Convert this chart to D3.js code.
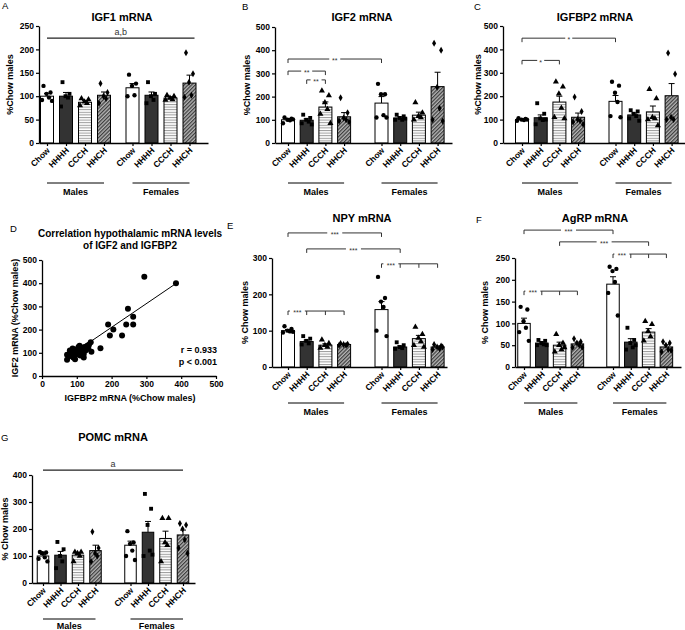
<!DOCTYPE html>
<html><head><meta charset="utf-8">
<script src="https://cdn.jsdelivr.net/npm/d3@7"></script>
<style>
body{margin:0;background:#fff}
text{font-family:"Liberation Sans",Arial,sans-serif}
</style>
</head><body>
<svg id="c" width="685" height="630"></svg>
<script>
// ---------- DATA ----------
const groups = ["Chow","HHHH","CCCH","HHCH"];
const sexes = ["Males","Females"];

// A: IGF1
const igf1Mean = [100,100,87,102,118,102,96,128];
const igf1Sem  = [6,8,4,7,9,7,3,17];
const igf1Pts  = [[122,108,105,97,92,90],[130,105,100,97,78],[95,93,88,85,80],[127,108,100,95,85],
                  [146,127,122,102,100],[130,105,100,92,85],[102,100,96,93,92],[193,148,130,102,98]];
const igf1Ticks = [0,50,100,150,200,250];

// B: IGF2
const igf2Mean = [100,98,155,113,172,108,120,243];
const igf2Sem  = [5,6,22,18,28,5,13,62];
const igf2Pts  = [[110,105,100,98,85,102],[122,108,100,92,85,80],[225,205,175,145,125,85],[195,130,108,100,95,90],
                  [255,210,210,120,110,110],[122,115,108,100,100,105],[175,130,115,110,100],[430,400,240,150,100,95]];
const igf2Ticks = [0,100,200,300,400,500];
const igf2Brackets = [{a:0,b:4,v:362,t:"**"},{a:0,b:2,v:310,t:"**"},{a:1,b:2,v:272,t:"**"}];

// C: IGFBP2
const igfbp2Mean = [100,108,175,110,178,120,133,202];
const igfbp2Sem  = [3,12,25,18,25,8,25,52];
const igfbp2Pts  = [[106,103,100,98,95,100],[170,125,105,98,80,100],[262,240,210,150,110,105],[197,135,100,95,90,80],
                    [262,245,215,175,115,110],[140,135,125,115,105,95],[230,190,110,105,100,75],[385,295,110,100,100]];
const igfbp2Ticks = [0,100,200,300,400,500];
const igfbp2Brackets = [{a:0,b:4,v:448,t:"*"},{a:0,b:2,v:353,t:"*"}];

// D: correlation IGFBP2 (x) vs IGF2 (y)
const corrX = [72,72,78,82,85,88,90,92,95,98,100,103,105,108,110,112,115,118,120,122,125,128,130,133,135,140,142,120,95,105,80,88,
               168,190,195,205,230,242,247,262,262,294,385];
const corrY = [70,92,85,100,95,118,80,105,90,100,115,95,110,130,88,120,100,108,95,125,110,115,130,120,135,145,105,80,72,125,110,88,
               120,222,175,200,175,222,290,255,222,428,400];
const corrSlope = 1.02, corrIntercept = 6;
const corrTicks = [0,100,200,300,400,500];
const corrStats = ["r = 0.933","p < 0.001"];

// E: NPY
const npyMean = [100,70,60,62,158,55,78,55];
const npySem  = [3,4,4,1.5,22,3,9,3];
const npyPts  = [[112,105,100,98,95,97],[85,78,72,65,62],[75,65,60,55,52],[65,63,62,60,60],
                 [248,190,180,165,100,85],[68,60,55,52,50],[110,90,80,70,60,55],[62,58,55,50,48,55]];
const npyTicks = [0,100,200,300];
const npyBrackets = [{a:0,b:4,v:369,t:"***"},{a:1,b:5,v:325,t:"***"}];
const npyMulti = [{from:4,to:[5,6,7],v:284,t:"***"},{from:0,to:[1,2,3],v:154,t:"***"}];

// F: AgRP
const agrpMean = [100,55,50,53,190,57,80,46];
const agrpSem  = [12,3,7,4,17,8,8,5];
const agrpPts  = [[138,132,105,90,80,60],[62,60,55,52,50,50],[75,55,50,40,35,45],[65,58,55,50,45,45],
                  [230,225,220,195,170,118],[90,62,55,45,40,50],[105,98,82,70,60],[58,55,50,40,35,38]];
const agrpTicks = [0,50,100,150,200,250];
const agrpBrackets = [{a:0,b:4,v:314,t:"***"},{a:2,b:6,v:287,t:"***"}];
const agrpMulti = [{from:4,to:[5,6,7],v:259,t:"***"},{from:0,to:[1,2,3],v:174,t:"***"}];

// G: POMC
const pomcMean = [100,103,103,120,140,188,165,178];
const pomcSem  = [6,14,8,20,15,40,27,18];
const pomcPts  = [[115,113,110,95,90,80],[152,125,100,80,55],[115,115,110,100,80],[190,130,110,100,80],
                  [192,150,145,120,100,85],[330,275,215,120,100,105],[240,240,150,140,80],[220,215,200,160,130,110]];
const pomcTicks = [0,100,200,300,400];

// ---------- DRAWING ----------
const svg = d3.select("#c");
svg.append("rect").attr("width",685).attr("height",630).attr("fill","#fff");
const FONT = '"Liberation Sans",Arial,sans-serif';

const defs = svg.append("defs");
const ph = defs.append("pattern").attr("id","hstripe").attr("patternUnits","userSpaceOnUse").attr("width",4).attr("height",2.6);
ph.append("rect").attr("width",4).attr("height",2.6).attr("fill","#fff");
ph.append("rect").attr("width",4).attr("height",1).attr("fill","#9a9a9a");
const pd = defs.append("pattern").attr("id","dhatch").attr("patternUnits","userSpaceOnUse").attr("width",2.6).attr("height",2.6).attr("patternTransform","rotate(45)");
pd.append("rect").attr("width",2.6).attr("height",2.6).attr("fill","#b4b4b4");
pd.append("rect").attr("width",1.2).attr("height",2.6).attr("fill","#3c3c3c");

const fills = ["#fff","#333","url(#hstripe)","url(#dhatch)"];
const symTypes = [d3.symbolCircle,d3.symbolSquare,d3.symbolTriangle,d3.symbolDiamond];
const symSizes = [15,15,16,14];
const jit = [-3.5,3.5,-0.5,2,-5,5];

function styleAxis(sel, fs){
  sel.select(".domain").attr("stroke","#000").attr("stroke-width",1.3);
  sel.selectAll(".tick line").attr("stroke","#000").attr("stroke-width",1.2);
  sel.selectAll("text").attr("font-family",FONT).attr("font-size",fs||8.5).attr("font-weight","bold").attr("fill","#000");
}

function addText(x,y,txt,opts){
  opts = opts||{};
  const t = svg.append("text").attr("x",x).attr("y",y).text(txt)
    .attr("font-family",FONT).attr("font-size",opts.fs||9)
    .attr("font-weight",opts.fw||"bold").attr("text-anchor",opts.anchor||"middle")
    .attr("fill",opts.fill||"#000");
  if(opts.rot) t.attr("transform",`rotate(${opts.rot},${x},${y})`);
  return t;
}

function barPanel(cfg){
  const g = svg.append("g");
  const y = d3.scaleLinear().domain([0,cfg.max]).range([cfg.y0,cfg.yTop]);
  const slots = [0,1,2,3,3+cfg.gap,4+cfg.gap,5+cfg.gap,6+cfg.gap];
  const sL = (cfg.axisX-cfg.c0)/cfg.step, sR = (cfg.xEnd-cfg.c0)/cfg.step;
  const x = d3.scaleLinear().domain([sL,sR]).range([cfg.axisX,cfg.xEnd]);
  const cx = i => x(slots[i]);
  const bw = cfg.bw;

  cfg.mean.forEach((m,i)=>{
    const gi = i%4;
    g.append("line").attr("x1",cx(i)).attr("x2",cx(i)).attr("y1",y(m)).attr("y2",y(m+cfg.sem[i])).attr("stroke","#000").attr("stroke-width",1);
    g.append("line").attr("x1",cx(i)-3).attr("x2",cx(i)+3).attr("y1",y(m+cfg.sem[i])).attr("y2",y(m+cfg.sem[i])).attr("stroke","#000").attr("stroke-width",1);
    g.append("rect").attr("x",cx(i)-bw/2).attr("y",y(m)).attr("width",bw).attr("height",y(0)-y(m))
      .attr("fill",fills[gi]).attr("stroke","#000").attr("stroke-width",1);
  });
  cfg.pts.forEach((arr,i)=>{
    const gi = i%4;
    const sym = d3.symbol().type(symTypes[gi]).size(symSizes[gi]);
    arr.forEach((v,k)=>{
      g.append("path").attr("d",sym()).attr("transform",`translate(${cx(i)+jit[k%jit.length]*bw/13},${y(v)})`).attr("fill","#000");
    });
  });

  const ya = g.append("g").attr("transform",`translate(${cfg.axisX},0)`)
    .call(d3.axisLeft(y).tickValues(cfg.ticks).tickSize(3).tickSizeOuter(0).tickPadding(2));
  styleAxis(ya);
  const xa = g.append("g").attr("transform",`translate(0,${cfg.y0})`)
    .call(d3.axisBottom(x).tickValues(slots).tickSize(3).tickSizeOuter(0).tickFormat((d,i)=>groups[i%4]));
  styleAxis(xa);
  xa.selectAll(".tick text").attr("text-anchor","end").attr("dy",0).attr("y",0)
    .attr("transform","translate(3,8) rotate(-45)");

  sexes.forEach((s,k)=>{
    const a = cx(k*4), b = cx(k*4+3);
    g.append("line").attr("x1",a).attr("x2",b).attr("y1",cfg.y0+cfg.grpDy).attr("y2",cfg.y0+cfg.grpDy).attr("stroke","#000").attr("stroke-width",1);
    addText((a+b)/2,cfg.y0+cfg.grpDy+(cfg.grpTxt||12),s,{fs:9});
  });

  function drawBracket(xs,v,t,labelMid){
    const py = y(v);
    g.append("line").attr("x1",xs[0]).attr("x2",xs[xs.length-1]).attr("y1",py).attr("y2",py).attr("stroke","#333").attr("stroke-width",1);
    xs.forEach(xx=>g.append("line").attr("x1",xx).attr("x2",xx).attr("y1",py).attr("y2",py+4).attr("stroke","#333").attr("stroke-width",1));
    const tw = t.length*4+3;
    g.append("rect").attr("x",labelMid-tw/2).attr("y",py-2).attr("width",tw).attr("height",4).attr("fill","#fff");
    g.append("text").attr("x",labelMid).attr("y",py+4.2).attr("text-anchor","middle").text(t)
      .attr("font-family",FONT).attr("font-size",7).attr("fill","#333");
  }
  (cfg.brackets||[]).forEach(b=>drawBracket([cx(b.a),cx(b.b)],b.v,b.t,(cx(b.a)+cx(b.b))/2));
  (cfg.multi||[]).forEach(b=>{
    const xs = [cx(b.from)].concat(b.to.map(cx));
    drawBracket(xs,b.v,b.t,(xs[0]+xs[1])/2);
  });
  if(cfg.letter){
    const py = y(cfg.letter.v);
    g.append("line").attr("x1",cx(0)).attr("x2",cx(7)+cfg.letter.ext).attr("y1",py).attr("y2",py).attr("stroke","#222").attr("stroke-width",1.2);
    addText((cx(0)+cx(7)+cfg.letter.ext)/2,py-3,cfg.letter.t,{fs:9,fw:"normal",fill:"#333"});
  }
  addText(cfg.title[1],cfg.title[2],cfg.title[0],{fs:11});
  addText(cfg.ylab[1],(cfg.y0+cfg.yTop)/2,cfg.ylab[0],{fs:9,rot:-90});
  addText(cfg.letterPos[1],cfg.letterPos[2],cfg.letterPos[0],{fs:9.5,anchor:"start",fw:"normal"});
}

barPanel({mean:igf1Mean,sem:igf1Sem,pts:igf1Pts,ticks:igf1Ticks,max:250,
  axisX:39,y0:143,yTop:26,xEnd:208,c0:47,step:19,gap:1.5,bw:13,grpDy:40,
  letter:{v:224,t:"a,b",ext:5},
  title:["IGF1 mRNA",122,21],ylab:["%Chow males",13],letterPos:["A",2,9]});

barPanel({mean:igf2Mean,sem:igf2Sem,pts:igf2Pts,ticks:igf2Ticks,max:500,
  axisX:275,y0:143,yTop:27,xEnd:452,c0:288,step:18.7,gap:2,bw:13,grpDy:40,
  brackets:igf2Brackets,
  title:["IGF2 mRNA",362,21],ylab:["%Chow males",250],letterPos:["B",242,10]});

barPanel({mean:igfbp2Mean,sem:igfbp2Sem,pts:igfbp2Pts,ticks:igfbp2Ticks,max:500,
  axisX:503,y0:143,yTop:26,xEnd:685,c0:522,step:18.7,gap:2,bw:13,grpDy:40,
  brackets:igfbp2Brackets,
  title:["IGFBP2 mRNA",595,21],ylab:["%Chow males",481],letterPos:["C",474,10]});

barPanel({mean:npyMean,sem:npySem,pts:npyPts,ticks:npyTicks,max:300,
  axisX:272,y0:367,yTop:258,xEnd:447,c0:288,step:18.7,gap:2,bw:13,grpDy:36,
  brackets:npyBrackets,multi:npyMulti,
  title:["NPY mRNA",362,222],ylab:["% Chow males",248],letterPos:["E",227,229]});

barPanel({mean:agrpMean,sem:agrpSem,pts:agrpPts,ticks:agrpTicks,max:250,
  axisX:515,y0:367,yTop:258,xEnd:681,c0:524,step:17.8,gap:2,bw:12.5,grpDy:36,
  brackets:agrpBrackets,multi:agrpMulti,
  title:["AgRP mRNA",595,222],ylab:["% Chow males",488],letterPos:["F",476,223]});

barPanel({mean:pomcMean,sem:pomcSem,pts:pomcPts,ticks:pomcTicks,max:400,
  axisX:32,y0:583,yTop:475,xEnd:195,c0:43,step:17.5,gap:2,bw:11.5,grpDy:36,grpTxt:10,
  letter:{v:418,t:"a",ext:0},
  title:["POMC mRNA",113,441],ylab:["% Chow males",8],letterPos:["G",1,441]});

// Panel D scatter
(function(){
  const g = svg.append("g");
  const x = d3.scaleLinear().domain([0,500]).range([42,216]);
  const y = d3.scaleLinear().domain([0,500]).range([376,260]);
  const xa = g.append("g").attr("transform","translate(0,376)").call(d3.axisBottom(x).tickValues(corrTicks).tickSize(3).tickSizeOuter(0).tickPadding(2));
  styleAxis(xa);
  const ya = g.append("g").attr("transform","translate(42,0)").call(d3.axisLeft(y).tickValues(corrTicks).tickSize(3).tickSizeOuter(0).tickPadding(2));
  styleAxis(ya);
  const xmin = d3.min(corrX), xmax = d3.max(corrX);
  g.append("line").attr("x1",x(xmin)).attr("y1",y(corrIntercept+corrSlope*xmin))
    .attr("x2",x(xmax)).attr("y2",y(corrIntercept+corrSlope*xmax)).attr("stroke","#000").attr("stroke-width",1);
  corrX.forEach((v,i)=>g.append("circle").attr("cx",x(v)).attr("cy",y(corrY[i])).attr("r",3).attr("fill","#000"));
  addText(217,353,corrStats[0],{fs:9,anchor:"end"});
  addText(217,365,corrStats[1],{fs:9,anchor:"end"});
  addText(130,401,"IGFBP2 mRNA (%Chow males)",{fs:9});
  addText(18,318,"IGF2 mRNA (%Chow males)",{fs:9,rot:-90});
  addText(130,237,"Correlation hypothalamic mRNA levels",{fs:10});
  addText(130,249,"of IGF2 and IGFBP2",{fs:10});
  addText(10,232,"D",{fs:9.5,anchor:"start",fw:"normal"});
})();
</script>
</body></html>
